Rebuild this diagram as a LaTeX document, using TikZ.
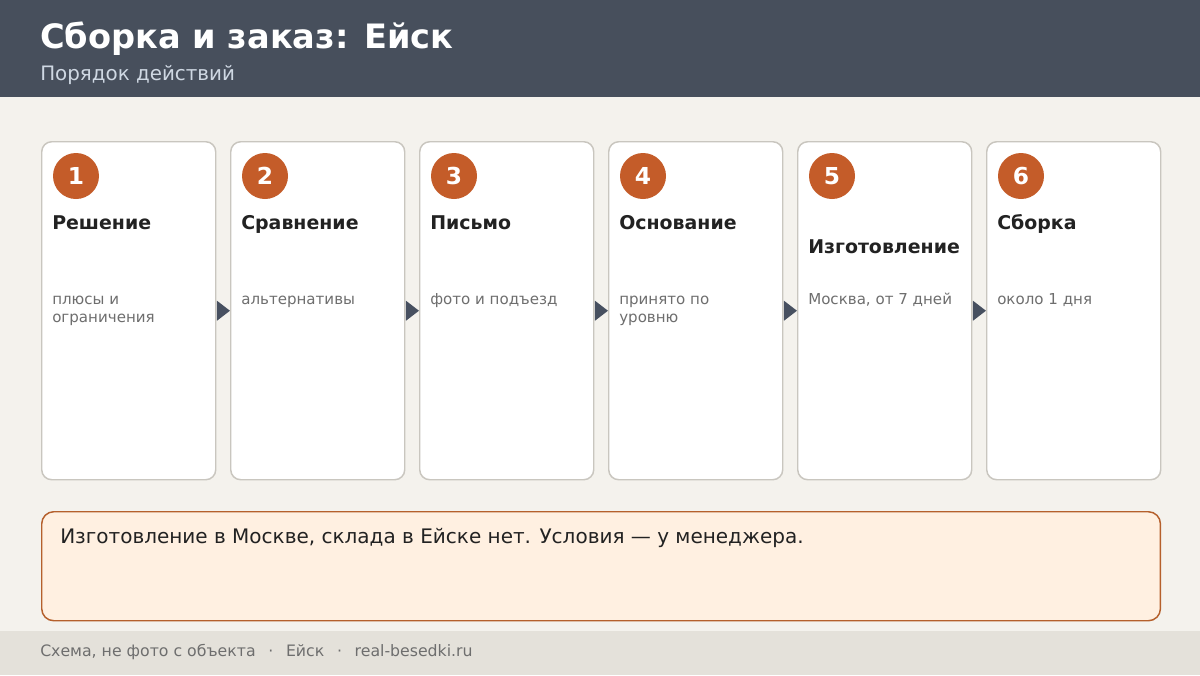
\documentclass[tikz,border=0pt]{standalone}
\usepackage{fontspec}
\setmainfont{DejaVu Sans}
\usetikzlibrary{positioning}
\definecolor{headbg}{HTML}{474F5C}
\definecolor{pagebg}{HTML}{F4F2ED}
\definecolor{footbg}{HTML}{E4E1DA}
\definecolor{cardline}{HTML}{C9C6BF}
\definecolor{badgefill}{HTML}{C45C29}
\definecolor{darktext}{HTML}{222222}
\definecolor{greytext}{HTML}{6E6E6E}
\definecolor{subtext}{HTML}{CFD8E3}
\definecolor{tipfill}{HTML}{475060}
\definecolor{notefill}{HTML}{FFF0E1}
\definecolor{noteline}{HTML}{B5602C}
\tikzset{
  card/.style={draw=cardline, fill=white, line width=1.1pt, rounded corners=7.5pt, minimum width=130.5pt, minimum height=253.5pt, anchor=north west, inner sep=0pt},
  badge/.style={circle, fill=badgefill, minimum size=34.5pt, inner sep=0pt, text=white, font=\fontsize{17.5}{20}\bfseries},
  steptitle/.style={anchor=base west, inner sep=0pt, text=darktext, font=\fontsize{14.2}{17}\bfseries},
  stepdesc/.style={anchor=base west, inner sep=0pt, align=left, text=greytext, font=\fontsize{11.3}{13.5}\selectfont},
  notebox/.style={draw=noteline, fill=notefill, line width=1.1pt, rounded corners=9pt, minimum width=839pt, minimum height=81.75pt, anchor=north west, inner sep=0pt}
}
\begin{document}
\begin{tikzpicture}[x=0.75pt, y=-0.75pt]
  \useasboundingbox (0,0) rectangle (1200,675);
  \fill[pagebg] (0,0) rectangle (1200,675);
  \fill[headbg] (0,0) rectangle (1200,97);
  \fill[footbg] (0,631) rectangle (1200,675);

  \node[anchor=base west, inner sep=0pt, text=white, font=\fontsize{25.2}{29}\bfseries] (title) at (40,48) {Сборка и заказ: Ейск};
  \node[anchor=base west, inner sep=0pt, text=subtext, font=\fontsize{14.9}{17}\selectfont] (subtitle) at (40,80) {Порядок действий};

  % cards
  \foreach \i/\name/\desc/\ty/\dy in {1/Решение/{плюсы и\\ограничения}/229/322, 2/Сравнение/{альтернативы}/229/304, 3/Письмо/{фото и подъезд}/229/304, 4/Основание/{принято по\\уровню}/229/322, 5/Изготовление/{Москва, от 7 дней}/253/304, 6/Сборка/{около 1 дня}/229/304} {
    \node[card] (card-\i) at ({41+189*(\i-1)},141) {};
    \node[badge] (badge-\i) at ({76+189*(\i-1)},176) {\i};
    \node[steptitle] (name-\i) at ({52+189*(\i-1)},\ty) {\name};
    \node[stepdesc] (desc-\i) at ({52+189*(\i-1)},\dy) {\desc};
  }
  \foreach \i in {1,...,5} {
    \fill[tipfill] (card-\i.east) ++(0.5,-10) -- ++(13,10) -- ++(-13,10) -- cycle;
  }

  % note
  \node[notebox] (note) at (41,511) {};
  \node[anchor=base west, inner sep=0pt, text=darktext, font=\fontsize{15}{18}\selectfont] (note-text) at (60,543) {Изготовление в Москве, склада в Ейске нет. Условия — у менеджера.};

  \node[anchor=base west, inner sep=0pt, text=greytext, font=\fontsize{11.8}{14}\selectfont] (footer-text) at (40,656) {Схема, не фото с объекта\hspace{9.5pt}·\hspace{9.5pt}Ейск\hspace{9.5pt}·\hspace{9.5pt}real-besedki.ru};
\end{tikzpicture}
\end{document}
